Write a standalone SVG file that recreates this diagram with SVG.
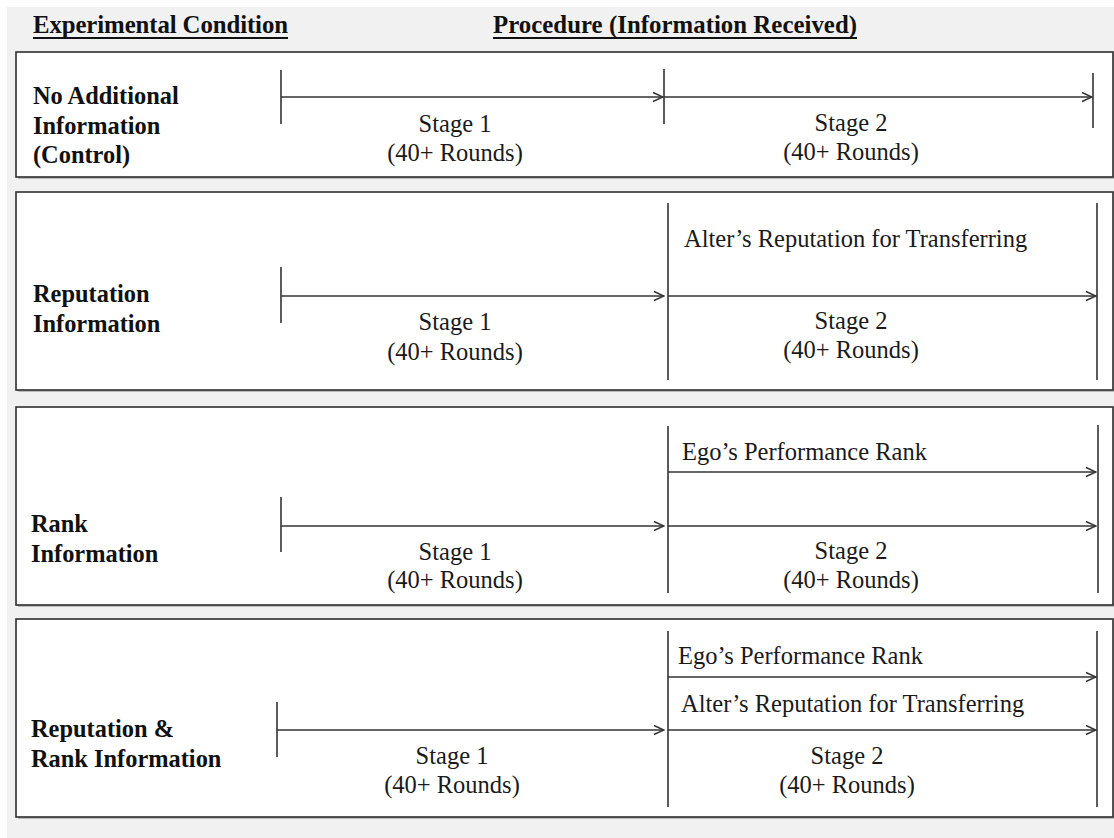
<svg xmlns="http://www.w3.org/2000/svg" width="1114" height="838" viewBox="0 0 1114 838">
<style>
.bg{fill:#f1f1f1}
.shadow{fill:#9a9a9a;opacity:0.6}
.panel{fill:#ffffff;stroke:#2e2e2e;stroke-width:1.6}
.hdr{font-family:"Liberation Serif","Times New Roman",serif;font-weight:bold;font-size:24.8px;fill:#111}
.lbl{font-family:"Liberation Serif","Times New Roman",serif;font-weight:bold;font-size:24.4px;fill:#111}
.txt{font-family:"Liberation Serif","Times New Roman",serif;font-size:24.5px;fill:#1a1a1a}
.mid{text-anchor:middle}
.ln{stroke:#333;stroke-width:1.6;fill:none}
.arr{stroke:#333;stroke-width:1.6;fill:none;marker-end:url(#ah)}
.ul{stroke:#111;stroke-width:2}
</style>
<defs>
<marker id="ah" viewBox="0 0 12 12" refX="11" refY="6" markerWidth="12" markerHeight="12" markerUnits="userSpaceOnUse" orient="auto">
<path d="M1,1.5 L11,6 L1,10.5" fill="none" stroke="#333" stroke-width="1.5"/>
</marker>
</defs>
<rect x="0" y="0" width="1114" height="838" fill="#ffffff"/>
<rect class="bg" x="7" y="7" width="1107" height="831"/>

<g id="headers">
<text class="hdr" x="33" y="33" textLength="255" lengthAdjust="spacing">Experimental Condition</text>
<line class="ul" x1="33" y1="38" x2="288" y2="38"/>
<text class="hdr" x="493" y="33" textLength="364" lengthAdjust="spacing">Procedure (Information Received)</text>
<line class="ul" x1="493" y1="38" x2="857" y2="38"/>
</g>

<g id="panel-control">
<rect class="shadow" x="18" y="54" width="1097" height="125"/>
<rect class="panel" x="16" y="52" width="1097" height="125"/>
<text class="lbl" x="33" y="104">No Additional</text>
<text class="lbl" x="33" y="134">Information</text>
<text class="lbl" x="33" y="163">(Control)</text>
<text class="txt mid" x="455" y="132">Stage 1</text>
<text class="txt mid" x="455" y="161">(40+ Rounds)</text>
<text class="txt mid" x="851" y="131">Stage 2</text>
<text class="txt mid" x="851" y="160">(40+ Rounds)</text>
</g>

<g id="panel-reputation">
<rect class="shadow" x="18" y="194" width="1097" height="198"/>
<rect class="panel" x="16" y="192" width="1097" height="198"/>
<text class="lbl" x="33" y="302">Reputation</text>
<text class="lbl" x="33" y="332">Information</text>
<text class="txt mid" x="455" y="330">Stage 1</text>
<text class="txt mid" x="455" y="360">(40+ Rounds)</text>
<text class="txt mid" x="851" y="329">Stage 2</text>
<text class="txt mid" x="851" y="358">(40+ Rounds)</text>
<text class="txt" x="684" y="247">Alter’s Reputation for Transferring</text>
</g>

<g id="panel-rank">
<rect class="shadow" x="18" y="409" width="1097" height="198"/>
<rect class="panel" x="16" y="407" width="1097" height="198"/>
<text class="lbl" x="31" y="532">Rank</text>
<text class="lbl" x="31" y="562">Information</text>
<text class="txt mid" x="455" y="560">Stage 1</text>
<text class="txt mid" x="455" y="588">(40+ Rounds)</text>
<text class="txt mid" x="851" y="559">Stage 2</text>
<text class="txt mid" x="851" y="588">(40+ Rounds)</text>
<text class="txt" x="682" y="460">Ego’s Performance Rank</text>
</g>

<g id="panel-reprank">
<rect class="shadow" x="18" y="621" width="1097" height="198"/>
<rect class="panel" x="16" y="619" width="1097" height="198"/>
<text class="lbl" x="31" y="737">Reputation &amp;</text>
<text class="lbl" x="31" y="767">Rank Information</text>
<text class="txt mid" x="452" y="764">Stage 1</text>
<text class="txt mid" x="452" y="793">(40+ Rounds)</text>
<text class="txt mid" x="847" y="764">Stage 2</text>
<text class="txt mid" x="847" y="793">(40+ Rounds)</text>
<text class="txt" x="678" y="664">Ego’s Performance Rank</text>
<text class="txt" x="681" y="712">Alter’s Reputation for Transferring</text>
</g>

<g id="connectors">
<line class="ln" x1="281" y1="70" x2="281" y2="124"/>
<line class="arr" x1="281" y1="97" x2="663" y2="97"/>
<line class="ln" x1="664" y1="69" x2="664" y2="124"/>
<line class="arr" x1="664" y1="97" x2="1092" y2="97"/>
<line class="ln" x1="1093" y1="73" x2="1093" y2="128"/>

<line class="ln" x1="281" y1="267" x2="281" y2="323"/>
<line class="arr" x1="281" y1="296" x2="664" y2="296"/>
<line class="ln" x1="668" y1="203" x2="668" y2="380"/>
<line class="arr" x1="668" y1="296" x2="1096" y2="296"/>
<line class="ln" x1="1097" y1="203" x2="1097" y2="380"/>

<line class="ln" x1="281" y1="497" x2="281" y2="552"/>
<line class="arr" x1="281" y1="526" x2="664" y2="526"/>
<line class="ln" x1="668" y1="426" x2="668" y2="593"/>
<line class="arr" x1="668" y1="472" x2="1096" y2="472"/>
<line class="arr" x1="668" y1="526" x2="1096" y2="526"/>
<line class="ln" x1="1098" y1="425" x2="1098" y2="593"/>

<line class="ln" x1="277" y1="702" x2="277" y2="757"/>
<line class="arr" x1="277" y1="730" x2="664" y2="730"/>
<line class="ln" x1="668" y1="631" x2="668" y2="807"/>
<line class="arr" x1="668" y1="677" x2="1096" y2="677"/>
<line class="arr" x1="668" y1="730" x2="1096" y2="730"/>
<line class="ln" x1="1097" y1="631" x2="1097" y2="807"/>
</g>
</svg>
